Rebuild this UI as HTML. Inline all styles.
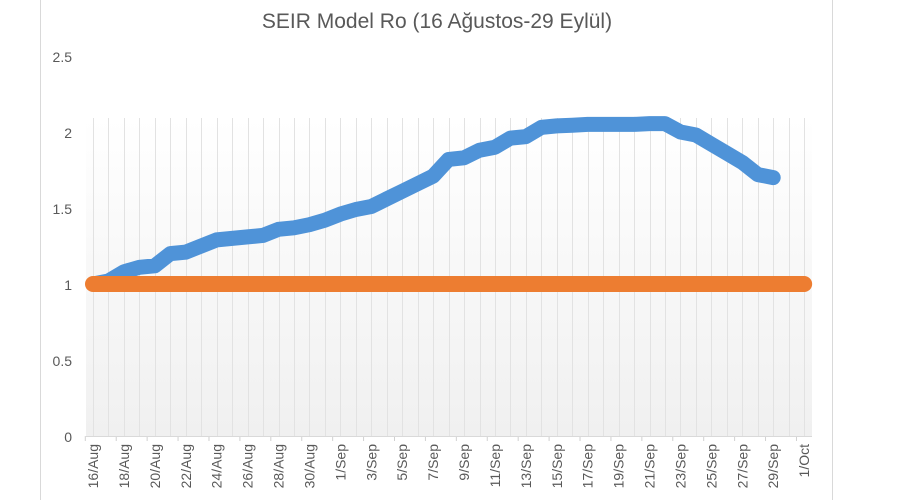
<!DOCTYPE html>
<html><head><meta charset="utf-8"><style>
html,body{margin:0;padding:0;background:#fff;width:900px;height:500px;overflow:hidden}
svg{display:block;font-family:"Liberation Sans",sans-serif}
</style></head><body>
<svg id="s" width="900" height="500" xmlns="http://www.w3.org/2000/svg">
<defs><linearGradient id="g" x1="0" y1="0" x2="0" y2="1">
<stop offset="0" stop-color="#ffffff"/><stop offset="1" stop-color="#f0f0f0"/></linearGradient></defs>
<line x1="40.5" y1="0" x2="40.5" y2="500" stroke="#d9d9d9"/>
<line x1="832.5" y1="0" x2="832.5" y2="500" stroke="#d9d9d9"/>
<rect x="86" y="118" width="726" height="318" fill="url(#g)"/>
<text x="437" y="28" font-size="21" fill="#595959" text-anchor="middle">SEIR Model Ro (16 Ağustos-29 Eylül)</text>
<g font-size="14" fill="#595959" text-anchor="end">
<text x="72" y="62">2.5</text><text x="72" y="138">2</text><text x="72" y="214">1.5</text>
<text x="72" y="290">1</text><text x="72" y="366">0.5</text><text x="72" y="442">0</text>
</g>
<g id="grid" stroke="#e2e2e2" stroke-width="1"></g>
<g id="lab" font-size="14" fill="#595959"></g>
<line x1="86" y1="436.5" x2="812" y2="436.5" stroke="#d9d9d9"/>
<polyline id="blue" fill="none" stroke="#4f93d8" stroke-width="15" stroke-linecap="round" stroke-linejoin="round"/>
<polyline id="orange" fill="none" stroke="#ed7d31" stroke-width="16" stroke-linecap="round" stroke-linejoin="round"/>
</svg>
<script>
var X=function(i){return 93+15.46*i},Y=function(v){return 436-152*v};
var b=[1.0,1.02,1.08,1.11,1.12,1.2,1.21,1.25,1.29,1.30,1.31,1.32,1.36,1.37,1.39,1.42,1.46,1.49,1.51,1.56,1.61,1.66,1.71,1.82,1.83,1.88,1.90,1.96,1.97,2.03,2.04,2.045,2.05,2.05,2.05,2.05,2.055,2.055,2.0,1.98,1.92,1.86,1.80,1.72,1.70];
var p=b.map(function(v,i){return X(i).toFixed(1)+","+Y(v).toFixed(1)}).join(" ");
document.getElementById("blue").setAttribute("points",p);
document.getElementById("orange").setAttribute("points",X(0)+",284 "+X(46)+",284");
var ns="http://www.w3.org/2000/svg",g=document.getElementById("grid"),l=document.getElementById("lab");
var labs=["16/Aug","18/Aug","20/Aug","22/Aug","24/Aug","26/Aug","28/Aug","30/Aug","1/Sep","3/Sep","5/Sep","7/Sep","9/Sep","11/Sep","13/Sep","15/Sep","17/Sep","19/Sep","21/Sep","23/Sep","25/Sep","27/Sep","29/Sep","1/Oct"];
for(var i=0;i<47;i++){var e=document.createElementNS(ns,"line"),x=Math.round(X(i))+.5;
e.setAttribute("x1",x);e.setAttribute("x2",x);e.setAttribute("y1",118);e.setAttribute("y2",436);g.appendChild(e);}
for(var k=0;k<24;k++){var x=X(2*k)-7.7;var t=document.createElementNS(ns,"line");
t.setAttribute("x1",x);t.setAttribute("x2",x);t.setAttribute("y1",436);t.setAttribute("y2",441);t.setAttribute("stroke","#d0d0d0");g.appendChild(t);
var tx=document.createElementNS(ns,"text");var cx=X(2*k)+5;
tx.setAttribute("transform","translate("+cx+",444) rotate(-90)");tx.setAttribute("text-anchor","end");tx.textContent=labs[k];l.appendChild(tx);}
</script>
</body></html>
